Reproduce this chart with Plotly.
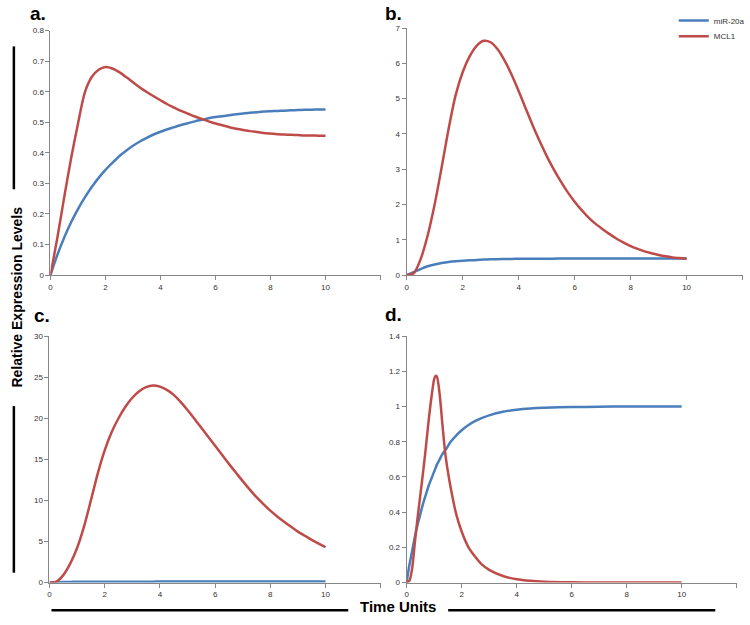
import plotly.graph_objects as go

# ---------------- data ----------------
t_a = [0, 0.25, 0.5, 0.75, 1.0, 1.25, 1.5, 1.75, 2.0, 2.25, 2.5, 2.75, 3.0, 3.25, 3.5, 3.75, 4.0,
       4.25, 4.5, 4.75, 5.0, 5.25, 5.5, 5.75, 6.0, 6.25, 6.5, 6.75, 7.0, 7.25, 7.5, 7.75, 8.0,
       8.25, 8.5, 8.75, 9.0, 9.25, 9.5, 9.75, 10]
mir_a = [0, 0.066, 0.123, 0.173, 0.216, 0.254, 0.288, 0.318, 0.344, 0.367, 0.389, 0.407, 0.423,
         0.437, 0.449, 0.460, 0.469, 0.477, 0.484, 0.491, 0.497, 0.503, 0.508, 0.513, 0.517,
         0.520, 0.523, 0.526, 0.529, 0.531, 0.533, 0.535, 0.536, 0.537, 0.538, 0.539, 0.540,
         0.541, 0.541, 0.542, 0.542]
mcl_a = [0, 0.122, 0.255, 0.382, 0.495, 0.598, 0.648, 0.672, 0.681, 0.676, 0.664, 0.648, 0.631,
         0.614, 0.599, 0.585, 0.572, 0.559, 0.548, 0.537, 0.528, 0.519, 0.511, 0.503, 0.496,
         0.490, 0.484, 0.479, 0.475, 0.471, 0.468, 0.465, 0.463, 0.461, 0.460, 0.459, 0.458,
         0.457, 0.457, 0.456, 0.456]

t_b = t_a
mir_b = [0, 0.085, 0.17, 0.25, 0.30, 0.34, 0.37, 0.39, 0.405, 0.418, 0.43, 0.438, 0.445, 0.45,
         0.455, 0.458, 0.46, 0.461, 0.462, 0.463, 0.464, 0.465, 0.466, 0.466, 0.467, 0.467, 0.468,
         0.468, 0.469, 0.469, 0.469, 0.469, 0.47, 0.47, 0.47, 0.47, 0.47, 0.47, 0.47, 0.47, 0.47]
mcl_b = [0, 0.05, 0.45, 1.12, 2.0, 3.05, 4.15, 5.1, 5.75, 6.2, 6.5, 6.64, 6.6, 6.4, 6.08, 5.68,
         5.22, 4.73, 4.25, 3.8, 3.38, 3.0, 2.66, 2.35, 2.08, 1.84, 1.63, 1.45, 1.3, 1.16, 1.03,
         0.92, 0.82, 0.74, 0.67, 0.62, 0.57, 0.53, 0.5, 0.48, 0.46]

t_c = t_a
mir_c = [0, 0.03, 0.06, 0.08, 0.09, 0.1, 0.1, 0.1, 0.11, 0.11, 0.11, 0.11, 0.11, 0.11, 0.11, 0.11,
         0.12, 0.12, 0.12, 0.12, 0.12, 0.12, 0.12, 0.12, 0.12, 0.12, 0.12, 0.12, 0.12, 0.12, 0.12,
         0.12, 0.12, 0.12, 0.12, 0.12, 0.12, 0.12, 0.12, 0.12, 0.12]
mcl_c = [0, 0.1, 0.9, 2.3, 4.2, 6.8, 10.0, 13.3, 16.1, 18.3, 20.0, 21.4, 22.5, 23.3, 23.8, 24.0,
         23.85, 23.45, 22.85, 22.0, 21.0, 19.95, 18.85, 17.75, 16.65, 15.55, 14.45, 13.4, 12.35,
         11.35, 10.4, 9.55, 8.75, 8.05, 7.4, 6.8, 6.2, 5.7, 5.2, 4.75, 4.3]

t_d = [0, 0.1, 0.2, 0.3, 0.4, 0.5, 0.6, 0.7, 0.8, 0.9, 1.0, 1.05, 1.1, 1.2, 1.3, 1.4, 1.5, 1.6,
       1.8, 2.0, 2.25, 2.5, 2.75, 3.0, 3.5, 4, 4.5, 5, 6, 7, 8, 9, 10]
mir_d = [0, 0.10, 0.18, 0.26, 0.33, 0.39, 0.45, 0.50, 0.55, 0.59, 0.63, 0.65, 0.67, 0.70, 0.73,
         0.75, 0.775, 0.80, 0.835, 0.865, 0.895, 0.918, 0.936, 0.95, 0.97, 0.982, 0.989, 0.993,
         0.997, 0.999, 1.0, 1.0, 1.0]
mcl_d = [0, 0.01, 0.08, 0.23, 0.37, 0.50, 0.63, 0.77, 0.92, 1.05, 1.155, 1.174, 1.17, 1.07, 0.90,
         0.74, 0.63, 0.54, 0.39, 0.29, 0.20, 0.145, 0.10, 0.072, 0.037, 0.019, 0.010, 0.005,
         0.001, 0, 0, 0, 0]

series_names = ["miR-20a", "MCL1"]
panel_labels = ["a.", "b.", "c.", "d."]
x_tickvals = [0, 2, 4, 6, 8, 10, 12]
x_ticktext = ["0", "2", "4", "6", "8", "10", ""]
y_ticks_a = [0, 0.1, 0.2, 0.3, 0.4, 0.5, 0.6, 0.7, 0.8]
y_ticks_b = [0, 1, 2, 3, 4, 5, 6, 7]
y_ticks_c = [0, 5, 10, 15, 20, 25, 30]
y_ticks_d = [0, 0.2, 0.4, 0.6, 0.8, 1, 1.2, 1.4]
y_label = "Relative Expression Levels"
x_label = "Time Units"

BLUE = "#4A7EBB"
RED = "#BE4B48"
W, H = 750, 625


def px(x):
    return x / W


def py(y):
    return 1 - y / H


fig = go.Figure()

panels = [
    (t_a, mir_a, mcl_a, "x", "y", False),
    (t_b, mir_b, mcl_b, "x2", "y2", True),
    (t_c, mir_c, mcl_c, "x3", "y3", False),
    (t_d, mir_d, mcl_d, "x4", "y4", False),
]
for t, mir, mcl, xa, ya, show in panels:
    fig.add_trace(go.Scatter(x=t, y=mir, mode="lines", name=series_names[0], xaxis=xa, yaxis=ya,
                             line=dict(color=BLUE, width=2.5, shape="spline", smoothing=0.8),
                             showlegend=show, legend="legend"))
    fig.add_trace(go.Scatter(x=t, y=mcl, mode="lines", name=series_names[1], xaxis=xa, yaxis=ya,
                             line=dict(color=RED, width=2.5, shape="spline", smoothing=0.8),
                             showlegend=show, legend="legend2"))

tickfont = dict(family="Liberation Sans", size=8, color="#333333")
axcommon = dict(showgrid=False, zeroline=False, showline=True, linecolor="#868686", linewidth=1,
                ticks="outside", ticklen=4, tickcolor="#868686", tickfont=tickfont,
                fixedrange=True)


def xaxis(domain, anchor):
    return dict(axcommon, domain=domain, anchor=anchor, range=[0, 12],
                tickvals=x_tickvals, ticktext=x_ticktext)


def yaxis(domain, anchor, ticks, rng, fmt):
    return dict(axcommon, domain=domain, anchor=anchor, range=rng, tickvals=ticks,
                ticktext=[fmt(v) for v in ticks])


def g(v):
    return ("%g" % v)


fig.update_layout(
    xaxis=xaxis([px(49), px(49 + 27.8 * 12)], "y"),
    yaxis=yaxis([py(275), py(27)], "x", y_ticks_a, [0, 0.8], g),
    xaxis2=xaxis([px(409), px(409 + 28.3 * 12)], "y2"),
    yaxis2=yaxis([py(275), py(24.5)], "x2", y_ticks_b, [0, 7], g),
    xaxis3=xaxis([px(48), px(48 + 27.9 * 12)], "y3"),
    yaxis3=yaxis([py(587), py(337)], "x3", y_ticks_c, [0, 30], g),
    xaxis4=xaxis([px(409), px(409 + 27.8 * 12)], "y4"),
    yaxis4=yaxis([py(587), py(337)], "x4", y_ticks_d, [0, 1.4], g),
)

annotations = []
label_pos = [(26, 10), (385, 10), (30, 316), (385, 315)]
for lab, (lx, ly) in zip(panel_labels, label_pos):
    annotations.append(dict(text="<b>%s</b>" % lab, x=px(lx), y=py(ly), xref="paper", yref="paper",
                            xanchor="left", yanchor="middle", showarrow=False,
                            font=dict(family="Liberation Sans", size=19, color="#000000")))
annotations.append(dict(text="<b>%s</b>" % y_label, x=px(15), y=py(297), xref="paper", yref="paper",
                        xanchor="center", yanchor="middle", textangle=-90, showarrow=False,
                        font=dict(family="Liberation Sans", size=14, color="#000000")))
annotations.append(dict(text="<b>%s</b>" % x_label, x=px(400), y=py(611), xref="paper", yref="paper",
                        xanchor="center", yanchor="middle", showarrow=False,
                        font=dict(family="Liberation Sans", size=15, color="#000000")))

shapes = [
    dict(type="line", xref="paper", yref="paper", x0=px(12), x1=px(12), y0=py(43), y1=py(188),
         line=dict(color="#000000", width=2.5)),
    dict(type="line", xref="paper", yref="paper", x0=px(12), x1=px(12), y0=py(408), y1=py(577),
         line=dict(color="#000000", width=2.5)),
    dict(type="line", xref="paper", yref="paper", x0=px(50), x1=px(350), y0=py(615), y1=py(615),
         line=dict(color="#000000", width=2.5)),
    dict(type="line", xref="paper", yref="paper", x0=px(451), x1=px(721), y0=py(615), y1=py(615),
         line=dict(color="#000000", width=2.5)),
]

legfont = dict(family="Liberation Sans", size=8, color="#333333")
fig.update_layout(
    width=W, height=H, margin=dict(l=0, r=0, t=0, b=0),
    paper_bgcolor="white", plot_bgcolor="white",
    annotations=annotations, shapes=shapes,
    legend=dict(x=px(679), y=py(2), xanchor="left", yanchor="top", bgcolor="rgba(0,0,0,0)",
                font=legfont, itemwidth=30),
    legend2=dict(x=px(679), y=py(18), xanchor="left", yanchor="top", bgcolor="rgba(0,0,0,0)",
                 font=legfont, itemwidth=30),
)

post = ("document.documentElement.style.overflow='hidden';"
        "document.body.style.margin='0px';"
        "document.body.style.overflow='hidden';"
        "document.body.style.height='625px';"
        "var gd=document.getElementById('{plot_id}');"
        "if(gd&&gd.parentElement){gd.parentElement.style.height='625px';"
        "gd.parentElement.style.overflow='hidden';}")

fig.write_html("out.html", config={"displayModeBar": False}, post_script=post)
